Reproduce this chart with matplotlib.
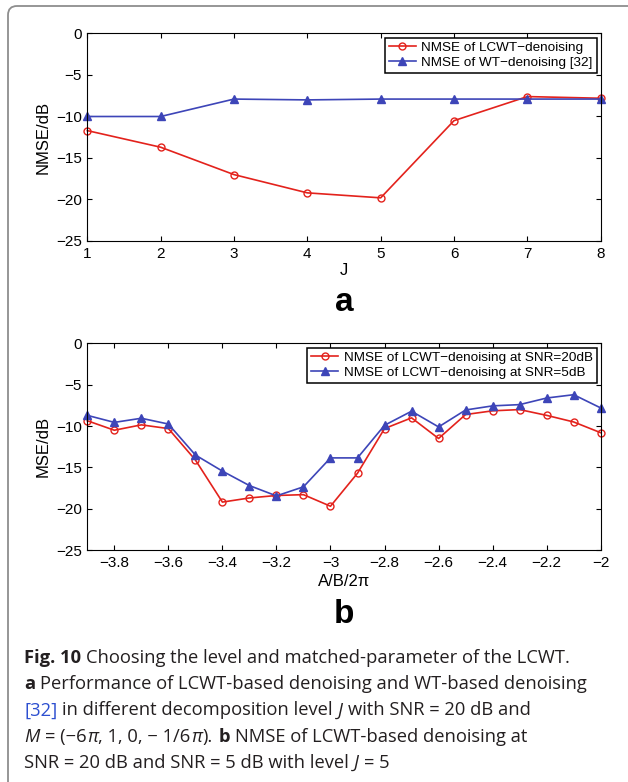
import numpy as np
import matplotlib
matplotlib.use("Agg")
import matplotlib.pyplot as plt
from matplotlib.patches import FancyBboxPatch
from matplotlib.transforms import IdentityTransform

# (a) NMSE against decomposition level J
levels = [1, 2, 3, 4, 5, 6, 7, 8]
nmse_lcwt = [-11.7, -13.7, -17.0, -19.2, -19.8, -10.5, -7.6, -7.8]
nmse_wt = [-10.0, -10.0, -7.9, -8.0, -7.9, -7.9, -7.9, -7.9]

# (b) NMSE against matched parameter A/B/2pi
ratio = [-3.9, -3.8, -3.7, -3.6, -3.5, -3.4, -3.3, -3.2, -3.1, -3.0,
         -2.9, -2.8, -2.7, -2.6, -2.5, -2.4, -2.3, -2.2, -2.1, -2.0]
nmse_snr20 = [-9.35, -10.5, -9.85, -10.3, -14.1, -19.2, -18.7, -18.4, -18.3, -19.7,
              -15.7, -10.3, -9.0, -11.5, -8.6, -8.15, -8.0, -8.7, -9.5, -10.8]
nmse_snr5 = [-8.7, -9.55, -9.05, -9.75, -13.5, -15.45, -17.2, -18.45, -17.35, -13.85,
             -13.85, -9.9, -8.2, -10.1, -8.05, -7.55, -7.4, -6.6, -6.2, -7.8]

yticks = [0, -5, -10, -15, -20, -25]
xticks_b = [-3.8, -3.6, -3.4, -3.2, -3.0, -2.8, -2.6, -2.4, -2.2, -2.0]
xticklabels_b = ["\u22123.8", "\u22123.6", "\u22123.4", "\u22123.2", "\u22123", "\u22122.8",
                 "\u22122.6", "\u22122.4", "\u22122.2", "\u22122"]

RED = "#e3221c"
BLUE = "#3d45b8"
W, H = 628, 782
TICK_FS = 11
LABEL_FS = 12

plt.rcParams["font.family"] = ["Liberation Sans", "DejaVu Sans"]
plt.rcParams["axes.unicode_minus"] = True

fig = plt.figure(figsize=(W / 100, H / 100), dpi=100)


def fx(px):
    return px / W


def fy(py):
    return 1 - py / H


def make_axes(top, bottom):
    ax = fig.add_axes([fx(87.3), fy(bottom), (600.7 - 87.3) / W, (bottom - top) / H])
    ax.tick_params(direction="in", top=True, right=True, length=3.5, width=0.8,
                   labelsize=TICK_FS, pad=4)
    for s in ax.spines.values():
        s.set_linewidth(0.8)
    ax.set_ylim(-25, 0)
    ax.set_yticks(yticks)
    return ax


def style_legend(ax):
    leg = ax.legend(loc="upper right", fontsize=9.7, fancybox=False, framealpha=1,
                    edgecolor="black", handlelength=2.0, handletextpad=0.4,
                    borderaxespad=0.3, borderpad=0.3, labelspacing=0.2)
    leg.get_frame().set_linewidth(1.1)


# top panel
ax1 = make_axes(33.5, 241)
ax1.plot(levels, nmse_lcwt, "-o", color=RED, lw=1.2, ms=5, mfc="none", mew=1,
         clip_on=False, label="NMSE of LCWT\u2212denoising")
ax1.plot(levels, nmse_wt, "-^", color=BLUE, lw=1.2, ms=5.5, mfc=BLUE, mew=1,
         clip_on=False, label="NMSE of WT\u2212denoising [32]")
ax1.set_xlim(1, 8)
ax1.set_xticks(levels)
ax1.set_xlabel("J", fontsize=LABEL_FS, va="center")
ax1.xaxis.set_label_coords(0.5, -(271 - 241) / (241 - 33.5))
ax1.set_ylabel("NMSE/dB", fontsize=LABEL_FS, va="center")
ax1.yaxis.set_label_coords((43.5 - 87.3) / 513.4, 0.5)
style_legend(ax1)

# bottom panel
ax2 = make_axes(343.5, 550)
ax2.plot(ratio, nmse_snr20, "-o", color=RED, lw=1.2, ms=5, mfc="none", mew=1,
         clip_on=False, label="NMSE of LCWT\u2212denoising at SNR=20dB")
ax2.plot(ratio, nmse_snr5, "-^", color=BLUE, lw=1.2, ms=5.5, mfc=BLUE, mew=1,
         clip_on=False, label="NMSE of LCWT\u2212denoising at SNR=5dB")
ax2.set_xlim(-3.9, -2.0)
ax2.set_xticks(xticks_b)
ax2.set_xticklabels(xticklabels_b)
ax2.set_xlabel("A/B/2\u03c0", fontsize=LABEL_FS, va="center")
ax2.xaxis.set_label_coords(0.5, -(581 - 550) / (550 - 343.5))
ax2.set_ylabel("MSE/dB", fontsize=LABEL_FS, va="center")
ax2.yaxis.set_label_coords((43.5 - 87.3) / 513.4, 0.5)
style_legend(ax2)

# panel letters
fig.text(fx(344), fy(311), "a", fontsize=24, fontweight="bold", ha="center", va="baseline")
fig.text(fx(344), fy(623), "b", fontsize=24, fontweight="bold", ha="center", va="baseline")

# rounded frame around the figure
frame = FancyBboxPatch((8, -30), 700, H - 6 + 30, boxstyle="round,pad=0,rounding_size=9",
                       transform=IdentityTransform(), fill=False, ec="#8e8e8e", lw=1.3)
fig.add_artist(frame)

# caption, laid out run by run
CAP = "#231f20"
FS = 13.2
base = dict(family=["Open Sans", "DejaVu Sans"], size=FS, color=CAP)
bold = dict(base, weight="bold")
ital = dict(base, style="italic")
link = dict(base, color="#2d4fd0")

caption = [
    [("Fig. 10", bold), (" Choosing the level and matched-parameter of the LCWT.", base)],
    [("a", bold), (" Performance of LCWT-based denoising and WT-based denoising", base)],
    [("[32]", link), (" in different decomposition level", base), (" J", ital),
     (" with SNR = 20 dB and", base)],
    [("M", ital), (" = (\u22126", base), ("\u03c0", ital), (", 1, 0, \u2212 1/6", base),
     ("\u03c0", ital), (").", base), (" b", bold), (" NMSE of LCWT-based denoising at", base)],
    [("SNR = 20 dB and SNR = 5 dB with level", base), (" J", ital), (" = 5", base)],
]

renderer = fig.canvas.get_renderer()
t1 = fig.text(0, 0, "nn", **base)
t2 = fig.text(0, 0, "n n", **base)
space_w = t2.get_window_extent(renderer).width - t1.get_window_extent(renderer).width
t1.remove()
t2.remove()

for i, runs in enumerate(caption):
    x = 24.0
    ybase = 663 + 26.2 * i
    for txt, kw in runs:
        if txt.startswith(" "):
            x += space_w
            txt = txt[1:]
        t = fig.text(fx(x), fy(ybase), txt, ha="left", va="baseline", **kw)
        x = t.get_window_extent(renderer).x1 + 0.5

fig.savefig("out.png", dpi=100, facecolor="white")
